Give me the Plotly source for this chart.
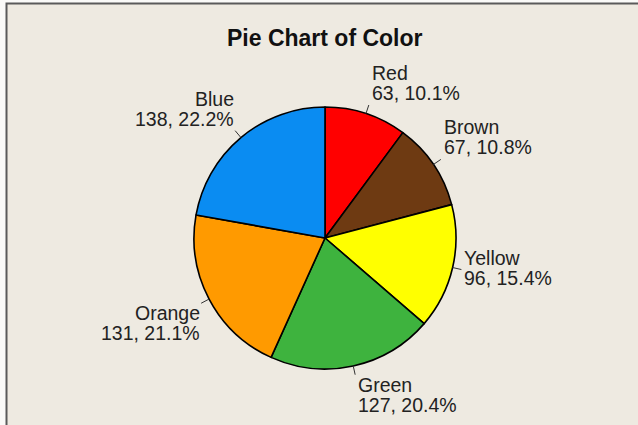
import math
import plotly.graph_objects as go

categories = ["Red", "Brown", "Yellow", "Green", "Orange", "Blue"]
counts = [63, 67, 96, 127, 131, 138]
slice_colors = ["#FF0000", "#6E3A12", "#FFFF00", "#3EB33E", "#FF9A00", "#0A8CF2"]

W, H = 638, 425
# pie geometry in pixels
CX, CY, R = 325, 238, 131
LEAD = 9
LINE = 20  # spacing between label lines
FONT = dict(family="Arial, Liberation Sans, sans-serif", size=19.5, color="#222222")

fig = go.Figure()
fig.add_trace(go.Pie(
    labels=categories, values=counts, sort=False, direction="clockwise", rotation=0,
    marker=dict(colors=slice_colors, line=dict(color="#000000", width=1.6)),
    textinfo="none", hoverinfo="label+value+percent", showlegend=False,
    domain=dict(x=[(CX - R) / W, (CX + R) / W], y=[(H - CY - R) / H, (H - CY + R) / H]),
))

total = sum(counts)
cum = 0
shapes = [
    dict(type="rect", xref="paper", yref="paper", x0=6.5 / W, x1=1.2, y0=-0.2, y1=(H - 3.5) / H,
         fillcolor="#EEEAE1", line=dict(color="#5A5A5A", width=2), layer="below"),
]
annotations = []
for cat, v in zip(categories, counts):
    mid = (cum + v / 2) / total * 2 * math.pi
    cum += v
    s, c = math.sin(mid), math.cos(mid)
    x0, y0 = CX + R * s, CY - R * c
    x1, y1 = CX + (R + LEAD) * s, CY - (R + LEAD) * c
    shapes.append(dict(type="line", xref="paper", yref="paper",
                       x0=x0 / W, y0=(H - y0) / H, x1=x1 / W, y1=(H - y1) / H,
                       line=dict(color="#333333", width=1)))
    pct = v / total * 100
    if s >= 0:
        xa, tx = "left", x1 + 1
    else:
        xa, tx = "right", x1 + 1
    if abs(c) < 0.3:
        l1 = y1 - 2 - LINE / 2
    elif c > 0:
        l1 = y1 - 5 - 7 - LINE
    else:
        l1 = y1 + 3 + 7
    for k, txt in enumerate([cat, f"{v}, {pct:.1f}%"]):
        yy = l1 + k * LINE
        annotations.append(dict(
            xref="paper", yref="paper", x=tx / W, y=(H - yy) / H, xanchor=xa, yanchor="middle",
            text=txt, showarrow=False, font=FONT,
        ))

annotations.append(dict(
    xref="paper", yref="paper", x=324.5 / W, y=(H - 38) / H, xanchor="center", yanchor="middle",
    text="<b>Pie Chart of Color</b>", showarrow=False,
    font=dict(family="Arial, Liberation Sans, sans-serif", size=23, color="#111111"),
))

fig.update_layout(
    width=W, height=H, margin=dict(l=0, r=0, t=0, b=0),
    paper_bgcolor="#FAFAF8", plot_bgcolor="#EEEAE1",
    shapes=shapes, annotations=annotations,
)
fig.write_html("out.html", config={"displayModeBar": False},
               post_script="document.body.style.margin='0px';document.body.style.overflow='hidden';")
